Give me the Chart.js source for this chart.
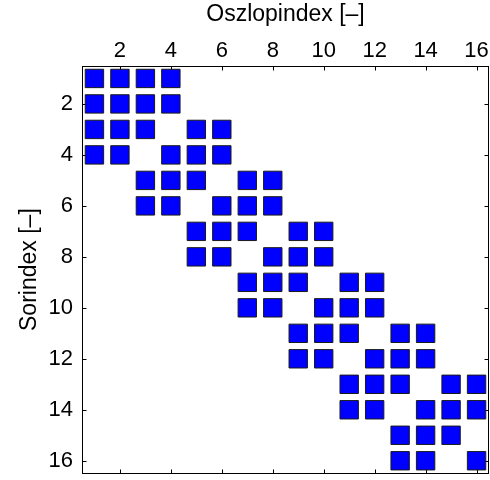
<!DOCTYPE html>
<html>
<head>
<meta charset="utf-8">
<script src="https://cdn.jsdelivr.net/npm/chart.js@4"></script>
<style>
  html, body { margin: 0; padding: 0; background: #fff; }
</style>
</head>
<body>
<canvas id="c" width="490" height="480"></canvas>
<script>
// Axis titles and tick labels
const xTitle = 'Oszlopindex [–]';
const yTitle = 'Sorindex [–]';
const tickValues = [2, 4, 6, 8, 10, 12, 14, 16];

// Sparsity pattern: for each row, the columns holding a nonzero entry
const rowIndex = [1, 2, 3, 4, 5, 6, 7, 8, 9, 10, 11, 12, 13, 14, 15, 16];
const rowColumns = [
  [1, 2, 3, 4],
  [1, 2, 3, 4],
  [1, 2, 3, 5, 6],
  [1, 2, 4, 5, 6],
  [3, 4, 5, 7, 8],
  [3, 4, 6, 7, 8],
  [5, 6, 7, 9, 10],
  [5, 6, 8, 9, 10],
  [7, 8, 9, 11, 12],
  [7, 8, 10, 11, 12],
  [9, 10, 11, 13, 14],
  [9, 10, 12, 13, 14],
  [11, 12, 13, 15, 16],
  [11, 12, 14, 15, 16],
  [13, 14, 15],
  [13, 14, 16]
];

const points = [];
rowIndex.forEach((r, i) => {
  rowColumns[i].forEach(c => points.push({ x: c, y: r }));
});

const family = '"Liberation Sans", Arial, Helvetica, sans-serif';
const tickFont = { family, size: 22 };
const titleFont = { family, size: 23 };

// Box around the plot with short inward ticks on all four sides
const frameTicks = {
  id: 'frameTicks',
  beforeDatasetsDraw(chart) {
    const { ctx, chartArea: a, scales: { x, y } } = chart;
    const L = Math.round(a.left) + 0.5, R = Math.round(a.right) - 0.5;
    const T = Math.round(a.top) + 0.5, B = Math.round(a.bottom) - 0.5;
    const len = 4;
    ctx.save();
    ctx.strokeStyle = '#000';
    ctx.lineWidth = 1;
    ctx.beginPath();
    tickValues.forEach(v => {
      const px = Math.round(x.getPixelForValue(v)) + 0.5;
      ctx.moveTo(px, T); ctx.lineTo(px, T + len);
      ctx.moveTo(px, B); ctx.lineTo(px, B - len);
      const py = Math.round(y.getPixelForValue(v)) + 0.5;
      ctx.moveTo(L, py); ctx.lineTo(L + len, py);
      ctx.moveTo(R, py); ctx.lineTo(R - len, py);
    });
    ctx.stroke();
    ctx.strokeRect(L, T, R - L, B - T);
    ctx.restore();
  }
};

new Chart(document.getElementById('c'), {
  type: 'scatter',
  data: {
    datasets: [{
      data: points,
      pointStyle: 'rect',
      pointRadius: 13,
      pointHoverRadius: 13,
      backgroundColor: '#0000ff',
      borderColor: '#1a1a1a',
      borderWidth: 1,
      hoverBorderWidth: 1
    }]
  },
  options: {
    responsive: false,
    animation: false,
    devicePixelRatio: 1,
    layout: { autoPadding: false, padding: { left: 0, top: 0, right: 0.7, bottom: 6.5 } },
    plugins: { legend: { display: false }, tooltip: { enabled: false } },
    scales: {
      x: {
        type: 'linear',
        position: 'top',
        min: 0.5,
        max: 16.5,
        afterBuildTicks: s => { s.ticks = tickValues.map(v => ({ value: v })); },
        afterFit: s => { s.height = 65.7; s.paddingLeft = 0; s.paddingRight = 0; },
        grid: { display: false, drawTicks: false },
        border: { display: false },
        ticks: { font: tickFont, color: '#000', padding: 2, maxRotation: 0, autoSkip: false },
        title: { display: true, text: xTitle, font: titleFont, color: '#000', padding: { top: 1, bottom: 0 } }
      },
      y: {
        type: 'linear',
        position: 'left',
        reverse: true,
        min: 0.5,
        max: 16.5,
        afterBuildTicks: s => { s.ticks = tickValues.map(v => ({ value: v })); },
        afterFit: s => { s.width = 81.7; s.paddingTop = 0; s.paddingBottom = 0; },
        grid: { display: false, drawTicks: false },
        border: { display: false },
        ticks: { font: tickFont, color: '#000', padding: 8.7, autoSkip: false },
        title: { display: true, text: yTitle, font: titleFont, color: '#000', padding: { top: 16, bottom: 0 } }
      }
    }
  },
  plugins: [frameTicks]
});
</script>
</body>
</html>
